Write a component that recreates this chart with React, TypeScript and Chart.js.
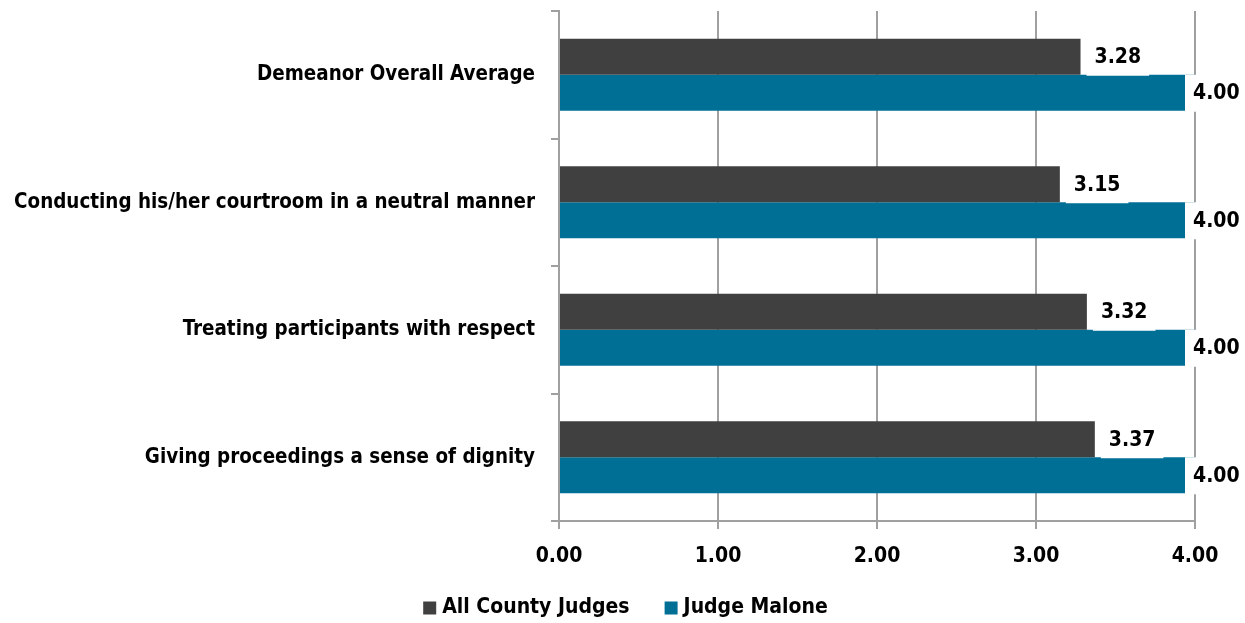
import React, { useEffect, useRef } from 'react';
import { Chart, registerables } from 'chart.js';

Chart.register(...registerables);

const categories = [
  'Demeanor Overall Average',
  'Conducting his/her courtroom in a neutral manner',
  'Treating participants with respect',
  'Giving proceedings a sense of dignity',
];
const seriesNames = ['All County Judges', 'Judge Malone'];
const allCountyJudges = [3.28, 3.15, 3.32, 3.37];
const judgeMalone = [4.0, 4.0, 4.0, 4.0];
const xMin = 0;
const xMax = 4;
const xStep = 1;

const DARK = '#404040';
const TEAL = '#006f96';
const GRID = '#a0a0a0';
const FONT = '"Liberation Sans Narrow", "Arial Narrow", "DejaVu Sans Condensed", sans-serif';
const FS = 21;

const labelPlugin = {
  id: 'barLabels',
  afterDatasetsDraw(chart: any) {
    const ctx = chart.ctx;
    ctx.save();
    ctx.font = `bold ${FS}px ${FONT}`;
    ctx.textBaseline = 'middle';
    ctx.textAlign = 'left';
    chart.data.datasets.forEach((ds: any, i: number) => {
      const meta = chart.getDatasetMeta(i);
      meta.data.forEach((bar: any, j: number) => {
        const text = Number(ds.data[j]).toFixed(2);
        const w = ctx.measureText(text).width;
        const x = Math.min(bar.x + 14, chart.chartArea.right - 2);
        ctx.fillStyle = '#ffffff';
        ctx.fillRect(x - 8, bar.y - 18, w + 16, 37);
        ctx.fillStyle = '#000000';
        ctx.fillText(text, x, bar.y + 1);
      });
    });
    ctx.restore();
  },
};

const legendPlugin = {
  id: 'customLegend',
  afterDraw(chart: any) {
    const ctx = chart.ctx;
    ctx.save();
    ctx.font = `bold ${FS}px ${FONT}`;
    ctx.textBaseline = 'middle';
    ctx.textAlign = 'left';
    const box = 13;
    const gapBoxText = 6;
    const gapItems = 35;
    const items = chart.data.datasets.map((ds: any) => ({
      label: ds.label,
      color: ds.backgroundColor,
      w: ctx.measureText(ds.label).width,
    }));
    const total = items.reduce((s: number, it: any) => s + box + gapBoxText + it.w, 0) + gapItems * (items.length - 1);
    let x = chart.width / 2 - total / 2 + 3;
    const y = chart.height - 15;
    items.forEach((it: any) => {
      ctx.fillStyle = it.color;
      ctx.fillRect(x, y - box / 2, box, box);
      x += box + gapBoxText;
      ctx.fillStyle = '#000000';
      ctx.fillText(it.label, x, y);
      x += it.w + gapItems;
    });
    ctx.restore();
  },
};

export default function App() {
  const ref = useRef<HTMLCanvasElement | null>(null);

  useEffect(() => {
    document.body.style.margin = '0';
    if (!ref.current) return;
    const chart = new Chart(ref.current, {
      type: 'bar',
      data: {
        labels: categories,
        datasets: [
          {
            label: seriesNames[0],
            data: allCountyJudges,
            backgroundColor: DARK,
            borderWidth: 0,
            categoryPercentage: 0.565,
            barPercentage: 1,
          },
          {
            label: seriesNames[1],
            data: judgeMalone,
            backgroundColor: TEAL,
            borderWidth: 0,
            categoryPercentage: 0.565,
            barPercentage: 1,
          },
        ],
      },
      options: {
        indexAxis: 'y',
        responsive: true,
        maintainAspectRatio: false,
        animation: false,
        layout: { padding: { top: 11, right: 50, left: 0, bottom: 42 } },
        plugins: {
          legend: { display: false },
          tooltip: { enabled: false },
        },
        scales: {
          x: {
            min: xMin,
            max: xMax,
            ticks: {
              stepSize: xStep,
              color: '#000000',
              font: { family: FONT, size: FS, weight: 'bold' },
              padding: 15,
              callback: (v: any) => Number(v).toFixed(2),
            },
            grid: { color: GRID, lineWidth: 2, tickLength: 8 },
            border: { color: GRID, width: 2 },
            afterFit: (scale: any) => {
              scale.height = 60;
            },
          },
          y: {
            ticks: {
              color: '#000000',
              font: { family: FONT, size: 20.4, weight: 'bold' },
              padding: 16,
            },
            grid: { color: GRID, lineWidth: 2, drawOnChartArea: false, tickLength: 8, offset: true },
            border: { color: GRID, width: 2 },
            afterFit: (scale: any) => {
              scale.width = 559;
              scale.paddingTop = 0;
              scale.paddingBottom = 0;
            },
          },
        },
      },
      plugins: [labelPlugin, legendPlugin],
    });
    return () => chart.destroy();
  }, []);

  return (
    <div style={{ position: 'relative', width: 1245, height: 623 }}>
      <canvas ref={ref} />
    </div>
  );
}
